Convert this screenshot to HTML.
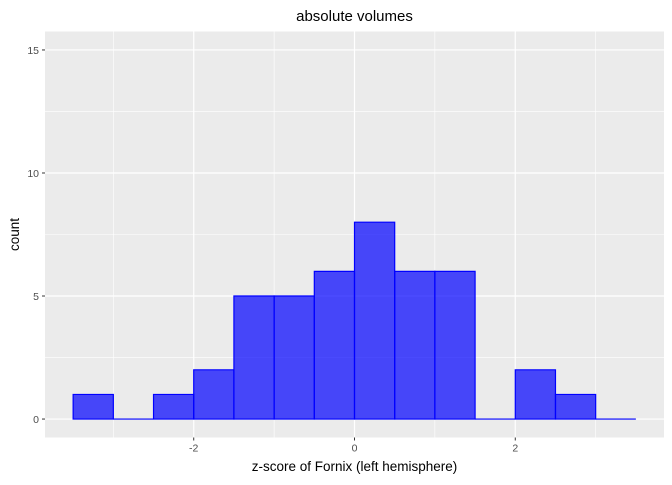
<!DOCTYPE html>
<html><head><meta charset="utf-8"><style>
body{margin:0;background:#fff;}
svg text{font-family:"Liberation Sans",Arial,sans-serif;}
</style></head><body>
<svg id="chart" width="672" height="480">
<rect x="45" y="31.5" width="619" height="406" fill="#ebebeb"/>
<g id="grid"></g><g id="bars"></g><g id="axes"></g>
<text x="354.5" y="21" text-anchor="middle" font-size="15" fill="#000">absolute volumes</text>
<text x="354.5" y="471" text-anchor="middle" font-size="13.5" fill="#000">z-score of Fornix (left hemisphere)</text>
<text transform="translate(19,234.5) rotate(-90)" text-anchor="middle" font-size="13.5" fill="#000">count</text>
</svg>
<script>
const binStarts=[-3.5,-3,-2.5,-2,-1.5,-1,-0.5,0,0.5,1,1.5,2,2.5,3];
const counts=[1,0,1,2,5,5,6,8,6,6,0,2,1,0];
const binWidth=0.5;
const xTicks=[-2,0,2];
const xMinor=[-3,-1,1,3];
const yTicks=[0,5,10,15];
const yMinor=[2.5,7.5,12.5];
const X0=45,X1=664,Y0=437.5,Y1=31.5;
const xs=v=>X0+(v+3.85)/7.7*(X1-X0);
const ys=v=>Y0-(v+0.75)/16.5*(Y0-Y1);
const NS="http://www.w3.org/2000/svg";
function mk(t,a,p){const e=document.createElementNS(NS,t);for(const k in a)e.setAttribute(k,a[k]);p.appendChild(e);return e;}
const g=document.getElementById('grid'),b=document.getElementById('bars'),ax=document.getElementById('axes');
xMinor.forEach(v=>{const l=mk('line',{x1:xs(v),x2:xs(v),y1:Y1,y2:Y0,stroke:'#fff','stroke-width':0.6},g);

});
yMinor.forEach(v=>{const l=mk('line',{x1:X0,x2:X1,y1:ys(v),y2:ys(v),stroke:'#fff','stroke-width':0.6},g);

});
xTicks.forEach(v=>{const l=mk('line',{x1:xs(v),x2:xs(v),y1:Y1,y2:Y0,stroke:'#fff','stroke-width':1.2},g);


const t=mk('line',{x1:xs(v),x2:xs(v),y1:Y0,y2:Y0+3,stroke:'#333'},ax);


const tx=mk('text',{x:xs(v),y:Y0+14,'text-anchor':'middle','font-size':10.5,fill:'#4d4d4d'},ax);tx.textContent=v;

});
yTicks.forEach(v=>{const l=mk('line',{x1:X0,x2:X1,y1:ys(v),y2:ys(v),stroke:'#fff','stroke-width':1.2},g);


const t=mk('line',{x1:X0-3,x2:X0,y1:ys(v),y2:ys(v),stroke:'#333'},ax);


const tx=mk('text',{x:X0-6,y:ys(v)+4,'text-anchor':'end','font-size':10.5,fill:'#4d4d4d'},ax);tx.textContent=v;

});
binStarts.forEach((s,i)=>{const c=counts[i];
const xa=xs(s),xb=xs(s+binWidth),ya=ys(0),yb=ys(c);
const r=mk('path',{d:`M${xa},${ya}L${xa},${yb}L${xb},${yb}L${xb},${ya}Z`,fill:'rgba(0,0,255,0.7)',stroke:'#0000ff','stroke-width':1.2},b);

});
</script>
</body></html>
